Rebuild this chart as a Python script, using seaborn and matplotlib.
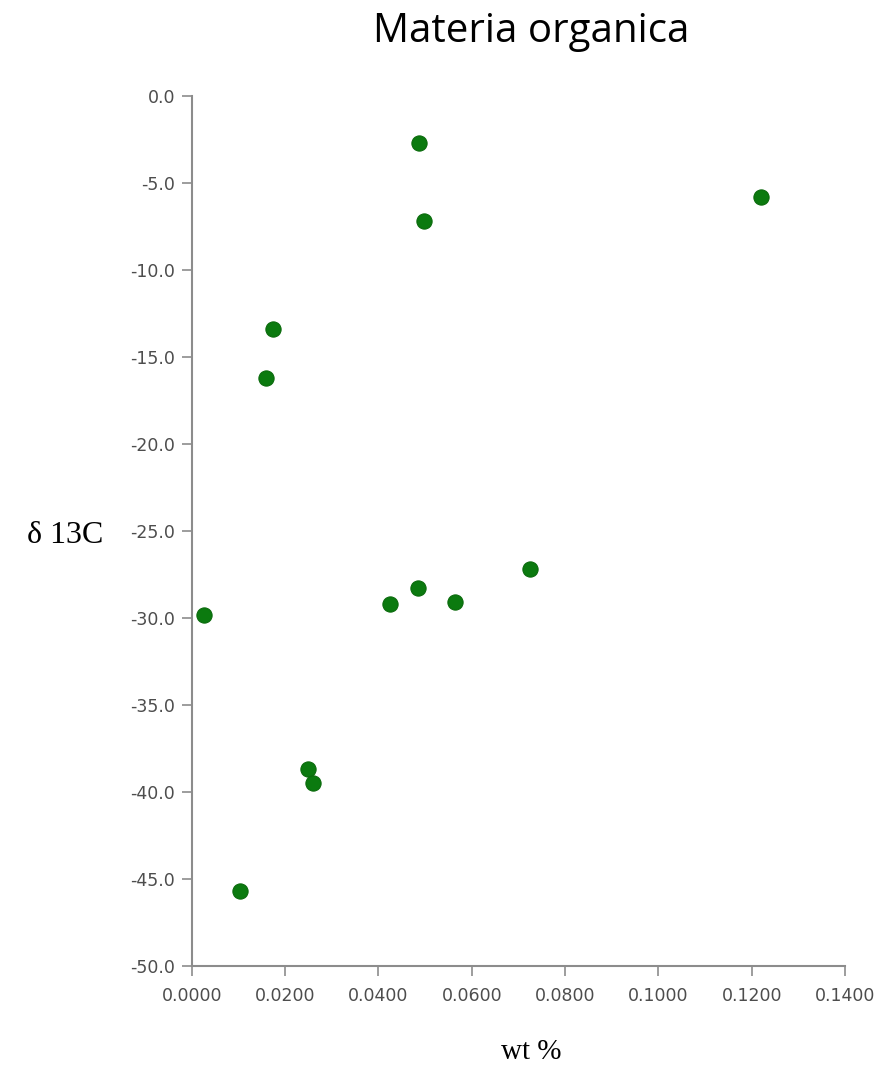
import numpy as np
import pandas as pd
import matplotlib
matplotlib.use("Agg")
import matplotlib.pyplot as plt
import seaborn as sns
from matplotlib.ticker import FormatStrFormatter

# wt % (x) and delta 13C (y)
wt_pct = [0.0027, 0.0103, 0.0159, 0.0175, 0.0250, 0.0259, 0.0424,
          0.0484, 0.0486, 0.0498, 0.0564, 0.0725, 0.1220]
d13c = [-29.8, -45.7, -16.2, -13.4, -38.7, -39.5, -29.2,
        -28.3, -2.7, -7.2, -29.1, -27.2, -5.8]

x_ticks = [0.0, 0.02, 0.04, 0.06, 0.08, 0.10, 0.12, 0.14]
y_ticks = [0.0, -5.0, -10.0, -15.0, -20.0, -25.0, -30.0, -35.0, -40.0, -45.0, -50.0]

df = pd.DataFrame({"wt": wt_pct, "d13c": d13c})

sns.set_style("white")
plt.rcParams['font.family'] = ['DejaVu Sans']

fig = plt.figure(figsize=(8.86, 10.66), dpi=100)
ax = fig.add_axes([0.2164, 0.0938, 0.7373, 0.8162])

sns.scatterplot(data=df, x="wt", y="d13c", ax=ax, color="#0b7a0f",
                edgecolor="#0a6a0c", linewidth=0.8, s=120, zorder=3)

ax.set_xlim(0, 0.14)
ax.set_ylim(-50, 0)
ax.set_xticks(x_ticks)
ax.set_yticks(y_ticks)
ax.xaxis.set_major_formatter(FormatStrFormatter("%.4f"))
ax.yaxis.set_major_formatter(FormatStrFormatter("%.1f"))

for side in ["top", "right"]:
    ax.spines[side].set_visible(False)
for side in ["left", "bottom"]:
    ax.spines[side].set_color("#8c8c8c")
    ax.spines[side].set_linewidth(1.5)

# seaborn's white style hides the tick marks, bring them back
ax.tick_params(axis="both", which="major", bottom=True, left=True,
               direction="out", length=7, width=1.2, color="#8c8c8c",
               labelsize=12.5, labelcolor="#4d4d4d")
ax.tick_params(axis="y", pad=5)
ax.tick_params(axis="x", pad=8)

ax.set_xlabel("wt %", family=["Liberation Serif"], fontsize=21, color="black")
ax.xaxis.set_label_coords(0.519, -0.099)
ax.xaxis.label.set_va("center")

ax.set_ylabel("\u03b4 13C", family=["Liberation Serif"], fontsize=23,
              color="black", rotation=0, ha="right", va="center")
ax.yaxis.set_label_coords(-0.136, 0.495)

fig.text(0.599, 0.970, "Materia organica", family=["Open Sans"],
         fontsize=29, ha="center", va="center", color="black")

fig.savefig("out.png", dpi=100, facecolor="white")
